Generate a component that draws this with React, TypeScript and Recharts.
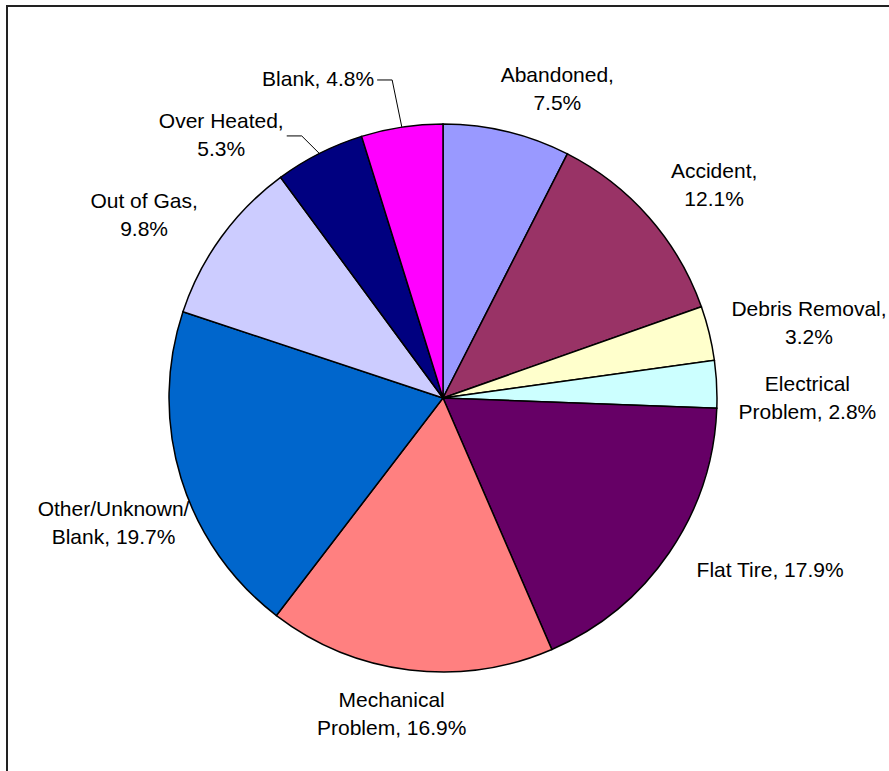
import React from "react";
import { PieChart, Pie, Cell } from "recharts";

const categories = [
  "Abandoned",
  "Accident",
  "Debris Removal",
  "Electrical Problem",
  "Flat Tire",
  "Mechanical Problem",
  "Other/Unknown/Blank",
  "Out of Gas",
  "Over Heated",
  "Blank",
];

const shares = [7.5, 12.1, 3.2, 2.8, 17.9, 16.9, 19.7, 9.8, 5.3, 4.8];

const labelTexts = [
  ["Abandoned,", "7.5%"],
  ["Accident,", "12.1%"],
  ["Debris Removal,", "3.2%"],
  ["Electrical", "Problem, 2.8%"],
  ["Flat Tire, 17.9%"],
  ["Mechanical", "Problem, 16.9%"],
  ["Other/Unknown/", "Blank, 19.7%"],
  ["Out of Gas,", "9.8%"],
  ["Over Heated,", "5.3%"],
  ["Blank, 4.8%"],
];

const colors = [
  "#9999FF",
  "#993366",
  "#FFFFCC",
  "#CCFFFF",
  "#660066",
  "#FF8080",
  "#0066CC",
  "#CCCCFF",
  "#000080",
  "#FF00FF",
];

// label nudges (Excel-like placement adjustments), separate from the data
const labelNudge: [number, number][] = [
  [32, 2],
  [16, -3],
  [3, 0],
  [0, 16],
  [22, -1],
  [-6, -2],
  [26, 30],
  [-16, 5],
  [-60, 22],
  [-72, -17],
];

const data = categories.map((name, i) => ({ name, value: shares[i] }));

const FONT_SIZE = 21;
const LINE_H = 28;
const FONT = '"Liberation Sans", Arial, Helvetica, sans-serif';

let ctx: CanvasRenderingContext2D | null = null;
function measure(t: string): number {
  try {
    if (!ctx) {
      const c = document.createElement("canvas");
      ctx = c.getContext("2d");
    }
    if (ctx) {
      ctx.font = `${FONT_SIZE}px ${FONT}`;
      return ctx.measureText(t).width;
    }
  } catch (e) {}
  return t.length * FONT_SIZE * 0.52;
}

const RAD = Math.PI / 180;

function renderLabel(props: any) {
  const { cx, cy, midAngle, outerRadius, index } = props;
  const lines = labelTexts[index];
  const w = Math.max(...lines.map(measure));
  const h = lines.length * LINE_H - 8;
  const c = Math.cos(-midAngle * RAD);
  const s = Math.sin(-midAngle * RAD);
  const r = outerRadius + 22;
  const [nx, ny] = labelNudge[index];
  const bx = cx + r * c + (c * w) / 2 + nx;
  const by = cy + r * s + (s * h) / 2 + ny;
  const firstCenter = by - ((lines.length - 1) * LINE_H) / 2;
  const needLeader = Math.hypot(nx, ny) > 40;
  const ex = cx + outerRadius * c;
  const ey = cy + outerRadius * s;
  const lineY = by + 1.5;
  const lx0 = bx + w / 2 + 3;
  const lx1 = bx + w / 2 + 18;
  return (
    <g key={`lbl-${index}`}>
      {needLeader && (
        <polyline
          points={`${lx0},${lineY} ${lx1},${lineY} ${ex},${ey}`}
          fill="none"
          stroke="#000"
          strokeWidth={1}
        />
      )}
      <text
        textAnchor="middle"
        fontFamily={FONT}
        fontSize={FONT_SIZE}
        fill="#000"
      >
        {lines.map((ln, k) => (
          <tspan key={k} x={bx} y={firstCenter + k * LINE_H + 7.5}>
            {ln}
          </tspan>
        ))}
      </text>
    </g>
  );
}

export default function App() {
  return (
    <div
      style={{
        position: "fixed",
        left: 0,
        top: 0,
        width: 889,
        height: 771,
        overflow: "hidden",
        background: "#fff",
      }}
    >
      <div
        style={{
          position: "absolute",
          left: 6,
          top: 5,
          width: 1000,
          height: 1000,
          border: "2px solid #222",
        }}
      />
      <div style={{ position: "absolute", left: 0, top: 0 }}>
        <PieChart
          width={889}
          height={771}
          margin={{ top: 0, right: 0, bottom: 0, left: 0 }}
        >
          <Pie
            data={data}
            dataKey="value"
            nameKey="name"
            cx={443}
            cy={398}
            outerRadius={274}
            startAngle={90}
            endAngle={-270}
            stroke="#000"
            strokeWidth={1.5}
            label={renderLabel}
            labelLine={false}
            isAnimationActive={false}
          >
            {data.map((d, i) => (
              <Cell key={d.name} fill={colors[i]} />
            ))}
          </Pie>
        </PieChart>
      </div>
    </div>
  );
}
